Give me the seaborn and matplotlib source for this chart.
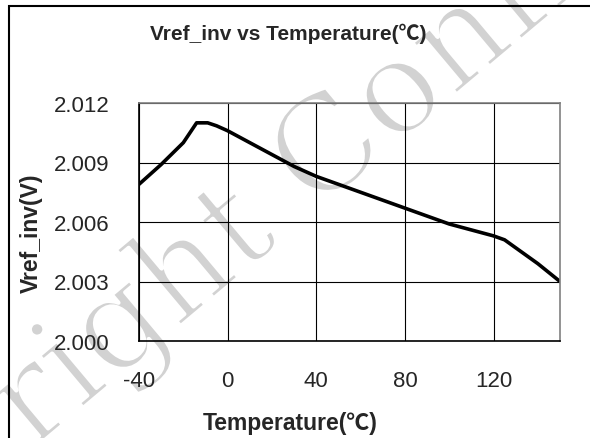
import pandas as pd
import matplotlib.pyplot as plt
import matplotlib.patheffects as pe
import seaborn as sns
from matplotlib.patches import Rectangle

# values
temp = [-40, -30, -20, -14, -9, -5, 0, 10, 20, 30, 40, 50, 60, 70, 80,
        90, 100, 110, 120, 125, 130, 140, 150]
vref = [2.0079, 2.0089, 2.0100, 2.0110, 2.0110, 2.01085, 2.0106, 2.0100,
        2.0094, 2.0088, 2.0083, 2.0079, 2.0075, 2.0071, 2.0067, 2.0063,
        2.0059, 2.0056, 2.0053, 2.0051, 2.0047, 2.0039, 2.0030]
x_ticks = [-40, 0, 40, 80, 120]
y_ticks = [2.000, 2.003, 2.006, 2.009, 2.012]
y_labels = ["2.000", "2.003", "2.006", "2.009", "2.012"]

df = pd.DataFrame({"Temperature": temp, "Vref_inv": vref})

sns.set_style("white")
plt.rcParams['font.family'] = ['Liberation Sans', 'Noto Sans CJK SC', 'DejaVu Sans']
plt.rcParams['axes.unicode_minus'] = False

fig = plt.figure(figsize=(5.9, 4.39), dpi=100)
ax = fig.add_axes([139 / 590, 1 - 342 / 439, 421 / 590, 238 / 439])
ax.set_zorder(1)
ax.patch.set_alpha(0)

sns.lineplot(data=df, x="Temperature", y="Vref_inv", color="black",
             linewidth=2.6, ax=ax)

ax.set_xlim(-40, 150)
ax.set_ylim(2.000, 2.012)
ax.set_xticks(x_ticks)
ax.set_yticks(y_ticks)
ax.set_yticklabels(y_labels)
ax.grid(True, color="black", linewidth=0.8)
ax.tick_params(axis="both", labelsize=16, length=0, pad=21)
for side in ["top", "right"]:
    ax.spines[side].set_color("#808080")
for side in ["left", "bottom"]:
    ax.spines[side].set_color("black")
for s in ax.spines.values():
    s.set_linewidth(1.2)
ax.set_xlabel("")
ax.set_ylabel("")

fig.text(288 / 590, 1 - 34 / 439, "Vref_inv vs Temperature(℃)", fontsize=15,
         fontweight="bold", ha="center", va="center")
fig.text(290 / 590, 1 - 424 / 439, "Temperature(℃)", fontsize=16.5,
         fontweight="bold", ha="center", va="center")
fig.text(31 / 590, 1 - 233 / 439, "Vref_inv(V)", fontsize=16.5,
         fontweight="bold", ha="center", va="center", rotation=90)

# watermark, thinned with a white stroke, kept under the chart
fig.text(-0.388, -0.528, "Copyright Confidential", fontsize=95,
         family="DejaVu Serif", color="#d2d2d2",
         rotation=40, rotation_mode="anchor", ha="left", va="baseline",
         zorder=0.5,
         path_effects=[pe.Normal(), pe.Stroke(linewidth=3, foreground="white")])

# outer frame of the figure
fig.add_artist(Rectangle((8.5 / 590, -0.1), 2, 1 - 7 / 439 + 0.1,
                         transform=fig.transFigure, fill=False,
                         edgecolor="black", linewidth=1.5))

fig.savefig("out.png", dpi=100)
